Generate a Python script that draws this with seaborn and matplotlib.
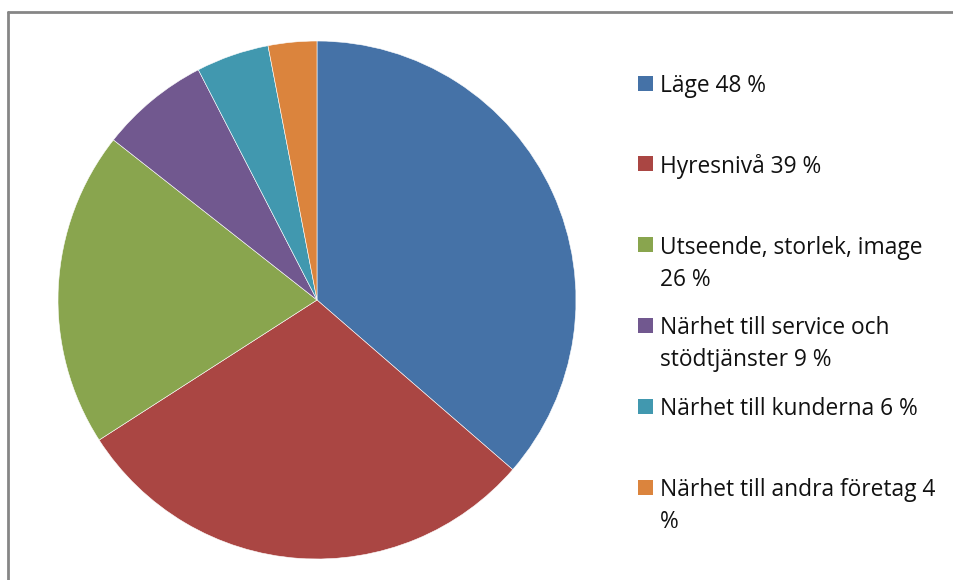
import matplotlib
matplotlib.use("Agg")
import matplotlib.pyplot as plt
import matplotlib.patches as mpatches
from matplotlib.lines import Line2D
import seaborn as sns

# ── Data ─────────────────────────────────────────────────────────────────────
labels = ["Läge 48 %", "Hyresnivå 39 %", "Utseende, storlek, image\n26 %",
          "Närhet till service och\nstödtjänster 9 %", "Närhet till kunderna 6 %",
          "Närhet till andra företag 4\n%"]
values = [48, 39, 26, 9, 6, 4]
colors = ["#4572A7", "#AA4643", "#89A54E", "#71588F", "#4198AF", "#DB843D"]

sns.set_theme(style="white")
plt.rcParams["font.family"] = ["Open Sans", "DejaVu Sans"]

W, H = 954, 580
fig = plt.figure(figsize=(W / 100, H / 100), dpi=100)

# pie: centre (317, 300) px, radius 259 px
cx, cy, r = 317, 300, 259
ax = fig.add_axes([(cx - r) / W, (H - cy - r) / H, 2 * r / W, 2 * r / H])
ax.pie(values, colors=colors, startangle=90, counterclock=False, radius=1,
       wedgeprops={"edgecolor": "white", "linewidth": 0.4})
ax.set_xlim(-1, 1); ax.set_ylim(-1, 1)
ax.set_aspect("equal"); ax.axis("off")

# ── Legend (manual, Excel-style) ─────────────────────────────────────────────
first_y = 83
step = 80.8
line_h = 32
for i, (lab, col) in enumerate(zip(labels, colors)):
    y = first_y + i * step
    fig.add_artist(mpatches.Rectangle((638 / W, (H - y - 7.5) / H), 15 / W, 15 / H,
                                      facecolor=col, edgecolor="none",
                                      transform=fig.transFigure))
    for j, line in enumerate(lab.split("\n")):
        fig.text(660 / W, (H - y - j * line_h) / H, line, fontsize=16.4,
                 color="#111111", ha="left", va="center_baseline")

# ── Chart border (gray frame) ────────────────────────────────────────────────
fig.add_artist(Line2D([8 / W, 1.0], [(H - 12) / H] * 2, color="#868686", lw=2,
                      transform=fig.transFigure))
fig.add_artist(Line2D([8 / W] * 2, [0, (H - 12) / H], color="#868686", lw=2,
                      transform=fig.transFigure))

fig.savefig("out.png", dpi=100, facecolor="white")
plt.close(fig)
